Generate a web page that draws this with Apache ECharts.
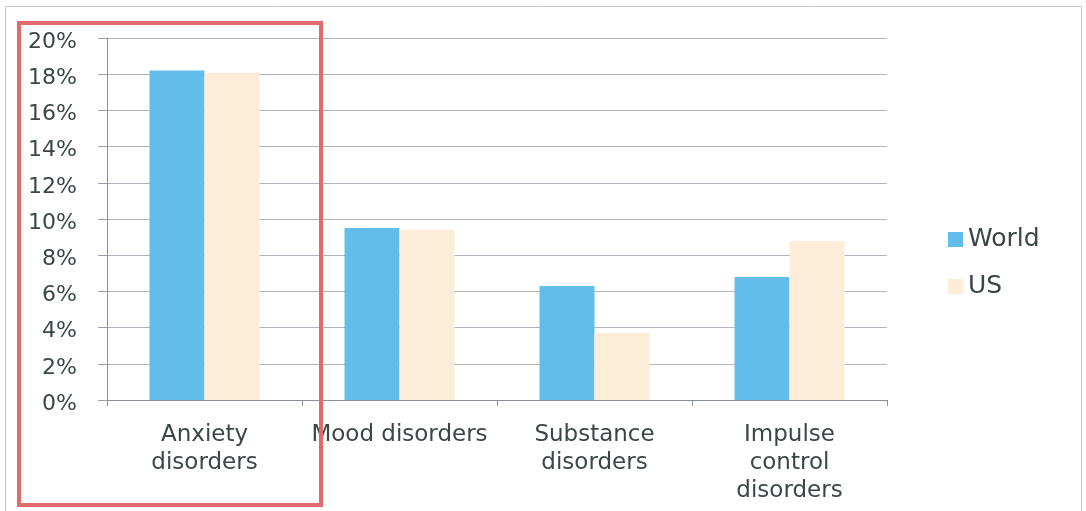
<!DOCTYPE html>
<html>
<head>
<meta charset="utf-8">
<script src="https://cdn.jsdelivr.net/npm/echarts@6/dist/echarts.min.js"></script>
<style>html,body{margin:0;padding:0;background:#fff}#c{width:1086px;height:511px}</style>
</head>
<body>
<div id="c"></div>
<script>
const categories = ["Anxiety\ndisorders", "Mood disorders", "Substance\ndisorders", "Impulse\ncontrol\ndisorders"];
const worldValues = [18.2, 9.5, 6.3, 6.8];
const usValues = [18.1, 9.4, 3.7, 8.8];
const yTicks = [0, 2, 4, 6, 8, 10, 12, 14, 16, 18, 20];

const chart = echarts.init(document.getElementById('c'), null, {renderer: 'canvas'});
const font = '"DejaVu Sans", sans-serif';
chart.setOption({
  animation: false,
  backgroundColor: '#ffffff',
  grid: {left: 107, right: 199, top: 38, bottom: 111, containLabel: false},
  legend: {
    orient: 'vertical', left: 943, top: 222, itemGap: 22,
    itemWidth: 15, itemHeight: 15, icon: 'rect',
    textStyle: {fontFamily: font, fontSize: 25, color: '#3c4646'},
    data: ['World', 'US']
  },
  xAxis: {
    type: 'category', data: categories,
    axisLine: {lineStyle: {color: '#8a8f98', width: 1}},
    axisTick: {show: true, length: 6, lineStyle: {color: '#8a8f98'}},
    axisLabel: {fontFamily: font, fontSize: 23, color: '#3c4646', lineHeight: 28, margin: 21, interval: 0}
  },
  yAxis: {
    type: 'value', min: yTicks[0], max: yTicks[yTicks.length - 1], interval: 2,
    axisLine: {show: true, lineStyle: {color: '#8a8f98', width: 1}},
    axisTick: {show: true, length: 9, lineStyle: {color: '#9aa0aa'}},
    splitLine: {show: true, lineStyle: {color: '#b0b4c0', width: 1}},
    axisLabel: {fontFamily: font, fontSize: 22, color: '#3c4646', margin: 30,
      verticalAlign: 'top', lineHeight: 8, formatter: v => v + '%'}
  },
  series: [
    {name: 'World', type: 'bar', data: worldValues, barWidth: 55, barGap: '0%',
     itemStyle: {color: '#63bdeb'}},
    {name: 'US', type: 'bar', data: usValues, barWidth: 55,
     itemStyle: {color: '#fdedd8'}}
  ],
  graphic: [
    {type: 'rect', shape: {x: 5.5, y: 6.5, width: 1076, height: 520}, style: {fill: null, stroke: '#c4c6cc', lineWidth: 1}, silent: true},
    {type: 'rect', shape: {x: 19, y: 23, width: 302, height: 482}, style: {fill: null, stroke: '#e46a6a', lineWidth: 4}, silent: true, z: 100}
  ]
});
</script>
</body>
</html>
